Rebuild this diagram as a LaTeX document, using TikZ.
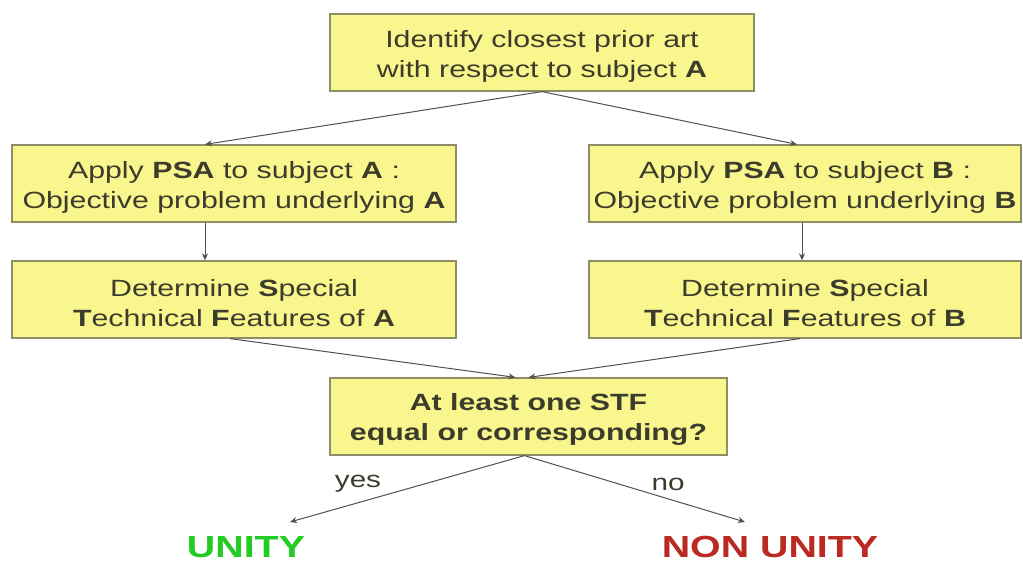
\documentclass[tikz,border=0pt]{standalone}
\usepackage{fontspec}
\setmainfont[FakeStretch=1.29]{Liberation Sans}
\usetikzlibrary{arrows.meta}
\definecolor{boxfill}{HTML}{FAF68E}
\definecolor{boxline}{HTML}{8E8E66}
\definecolor{txt}{HTML}{3C3C2C}
\definecolor{arr}{HTML}{505050}
\definecolor{unitygreen}{HTML}{22CC22}
\definecolor{nonred}{HTML}{BB2A22}
\tikzset{
  stepbox/.style={draw=boxline, line width=1.2pt, fill=boxfill,
    inner sep=0pt, minimum height=77pt},
  steptext/.style={text=txt, align=center, inner sep=0pt,
    font=\fontsize{23.5}{30}\selectfont},
  conn/.style={draw=arr, line width=1pt, -{Stealth[length=7pt,width=6pt]}},
  lab/.style={text=txt, font=\fontsize{23}{25}\selectfont, inner sep=0pt},
  result/.style={font=\fontsize{30.5}{35}\selectfont\bfseries, inner sep=0pt}
}
\begin{document}
\begin{tikzpicture}[x=1pt,y=-1pt]
\useasboundingbox (0,0) rectangle (1023,562);
\node[stepbox, minimum width=424pt] (top) at (542,52.5) {};
\node[stepbox, minimum width=444pt] (a1) at (234,183.5) {};
\node[stepbox, minimum width=432pt] (b1) at (805,183.5) {};
\node[stepbox, minimum width=444pt] (a2) at (234,299.5) {};
\node[stepbox, minimum width=432pt] (b2) at (805,299.5) {};
\node[stepbox, minimum width=397pt] (dec) at (528.5,416.5) {};
\node[steptext] (toptxt) at ([yshift=-4pt]top.center)
  {Identify closest prior art\\with respect to subject \textbf{A}};
\node[steptext] (a1txt) at ([yshift=-4pt]a1.center)
  {Apply \textbf{PSA} to subject \textbf{A} :\\Objective problem underlying \textbf{A}};
\node[steptext] (b1txt) at ([yshift=-4pt]b1.center)
  {Apply \textbf{PSA} to subject \textbf{B} :\\Objective problem underlying \textbf{B}};
\node[steptext] (a2txt) at ([yshift=-4pt]a2.center)
  {Determine \textbf{S}pecial\\\textbf{T}echnical \textbf{F}eatures of \textbf{A}};
\node[steptext] (b2txt) at ([yshift=-4pt]b2.center)
  {Determine \textbf{S}pecial\\\textbf{T}echnical \textbf{F}eatures of \textbf{B}};
\node[steptext, font=\fontsize{23.5}{30}\selectfont\bfseries] (dectxt) at ([yshift=-3pt]dec.center)
  {At least one STF\\equal or corresponding?};
\node[result, text=unitygreen] (unity) at (246,547) {UNITY};
\node[result, text=nonred] (non) at (770,547) {NON UNITY};
\node[lab] (yes) at (358,484) {yes};
\node[lab] (no) at (668,484) {no};
\coordinate (yend) at (290,522);
\coordinate (nend) at (745,522);
\draw[conn] (top.south) -- ([xshift=-29pt]a1.north);
\draw[conn] (top.south) -- ([xshift=-8pt]b1.north);
\draw[conn] ([xshift=-29pt]a1.south) -- ([xshift=-29pt]a2.north);
\draw[conn] ([xshift=-3pt]b1.south) -- ([xshift=-3pt]b2.north);
\draw[conn] ([xshift=-4pt]a2.south) -- ([xshift=-13pt]dec.north);
\draw[conn] ([xshift=-5pt]b2.south) -- ([xshift=0pt]dec.north);
\draw[conn] ([xshift=-4pt]dec.south) -- (yend);
\draw[conn] ([xshift=-4pt]dec.south) -- (nend);
\end{tikzpicture}
\end{document}
